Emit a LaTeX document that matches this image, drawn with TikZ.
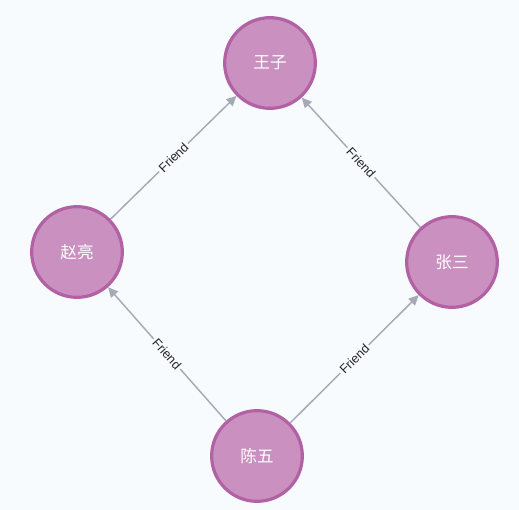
\documentclass[tikz,border=0pt]{standalone}
\usepackage{fontspec}
\setmainfont{Liberation Sans}
\newfontfamily\cjk{Noto Sans CJK SC}
\usetikzlibrary{arrows.meta}
\definecolor{bgc}{HTML}{F8FBFE}
\definecolor{nodefill}{HTML}{C990C0}
\definecolor{nodeborder}{HTML}{B261A5}
\definecolor{edgec}{HTML}{A5ABB6}
\tikzset{
  person/.style={circle, draw=nodeborder, fill=nodefill, line width=2.4pt,
    minimum size=68pt, inner sep=0pt, text=white, font=\cjk\fontsize{12.5}{14}\selectfont},
  rel/.style={draw=edgec, line width=1.1pt, -{Triangle[length=7.5pt,width=7pt]}},
  rellabel/.style={sloped, fill=bgc, inner sep=1.5pt, text=black!85, font=\fontsize{9.5}{11}\selectfont}
}
\begin{document}
\begin{tikzpicture}[x=0.75pt,y=-0.75pt]
\fill[bgc] (0,0) rectangle (519,510);
\useasboundingbox (0,0) rectangle (519,510);
\node[person] (wz) at (270,63) {王子};
\node[person] (zl) at (77,252) {赵亮};
\node[person] (zs) at (452,262) {张三};
\node[person] (cw) at (257,456) {陈五};
\draw[rel] (zl) -- node[rellabel]{Friend} (wz);
\draw[rel] (zs) -- node[rellabel]{Friend} (wz);
\draw[rel] (cw) -- node[rellabel]{Friend} (zl);
\draw[rel] (cw) -- node[rellabel]{Friend} (zs);
\end{tikzpicture}
\end{document}
